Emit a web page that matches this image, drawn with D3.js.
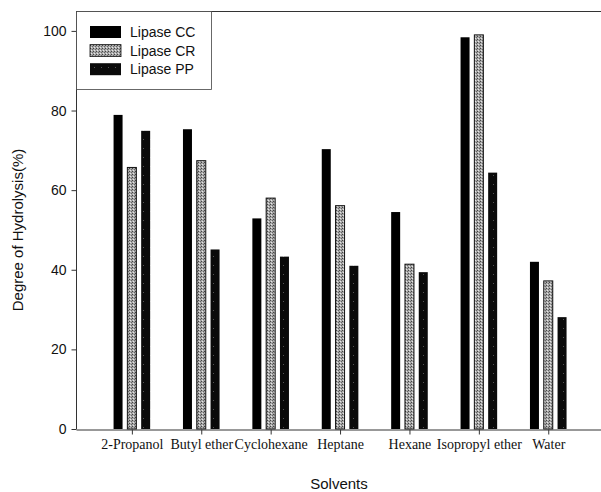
<!DOCTYPE html>
<html>
<head>
<meta charset="utf-8">
<script src="https://cdn.jsdelivr.net/npm/d3@7"></script>
<style>
  body { margin: 0; background: #fff; }
  svg { display: block; }
</style>
</head>
<body>
<svg id="chart" width="601" height="492"></svg>
<script>
// Degree of hydrolysis by lipase in different solvents
const solvents = ["2-Propanol", "Butyl ether", "Cyclohexane", "Heptane", "Hexane", "Isopropyl ether", "Water"];
const seriesNames = ["Lipase CC", "Lipase CR", "Lipase PP"];
const lipaseCC = [78.9, 75.3, 52.9, 70.3, 54.5, 98.4, 42.0];
const lipaseCR = [65.7, 67.4, 58.0, 56.1, 41.4, 99.0, 37.2];
const lipasePP = [74.9, 45.1, 43.3, 41.0, 39.4, 64.4, 28.1];
const yTicks = [0, 20, 40, 60, 80, 100];

const seriesValues = [lipaseCC, lipaseCR, lipasePP];

const svg = d3.select("#chart");
const margin = { left: 76, top: 11, right: 0, bottom: 63 };
const width = 601, height = 492;
const plotBottom = height - margin.bottom; // 429

// fills: solid black, stippled gray, speckled black
const defs = svg.append("defs");
const crPat = defs.append("pattern").attr("id", "crFill")
  .attr("patternUnits", "userSpaceOnUse").attr("width", 3).attr("height", 3);
crPat.append("rect").attr("width", 3).attr("height", 3).attr("fill", "#a8a8a8");
crPat.append("rect").attr("x", 0).attr("y", 0).attr("width", 1).attr("height", 1).attr("fill", "#444");
crPat.append("rect").attr("x", 2).attr("y", 1).attr("width", 1).attr("height", 1).attr("fill", "#666");
crPat.append("rect").attr("x", 1).attr("y", 2).attr("width", 1).attr("height", 1).attr("fill", "#e6e6e6");

const ppPat = defs.append("pattern").attr("id", "ppFill")
  .attr("patternUnits", "userSpaceOnUse").attr("width", 7).attr("height", 9);
ppPat.append("rect").attr("width", 7).attr("height", 9).attr("fill", "#0a0a0a");
ppPat.append("rect").attr("x", 3).attr("y", 4).attr("width", 1).attr("height", 1).attr("fill", "#555");

const fills = ["#000", "url(#crFill)", "url(#ppFill)"];
const strokes = ["none", "#111", "none"];

// scales
const x = d3.scaleLinear().domain([0.195, 7.76]).range([margin.left, width]);
const y = d3.scaleLinear().domain([0, 105]).range([plotBottom, margin.top]);

const barW = 9;
const barStep = 13.8;

// bars
seriesValues.forEach((vals, s) => {
  svg.append("g").selectAll("rect")
    .data(vals)
    .join("rect")
    .attr("x", (d, i) => x(i + 1) + (s - 1) * barStep - barW / 2)
    .attr("y", d => y(d))
    .attr("width", barW)
    .attr("height", d => y(0) - y(d))
    .attr("fill", fills[s])
    .attr("stroke", strokes[s])
    .attr("stroke-width", s === 1 ? 1 : 0);
});

// top frame line
svg.append("line")
  .attr("x1", margin.left).attr("x2", width)
  .attr("y1", margin.top + 0.5).attr("y2", margin.top + 0.5)
  .attr("stroke", "#333").attr("stroke-width", 1);

// y axis
const yAxis = svg.append("g")
  .attr("transform", `translate(${margin.left + 0.5},0)`)
  .call(d3.axisLeft(y).tickValues(yTicks).tickSize(5).tickSizeOuter(0));
yAxis.select(".domain").attr("stroke", "#333");
yAxis.selectAll(".tick line").attr("stroke", "#333");
yAxis.selectAll("text")
  .attr("font-family", "Arial, 'Liberation Sans', sans-serif")
  .attr("font-size", 14).attr("fill", "#111").attr("x", -10);
yAxis.select(".domain").attr("d", `M0,${margin.top}V${plotBottom}`);

// x axis
const xAxis = svg.append("g")
  .attr("transform", `translate(0,${plotBottom + 0.5})`)
  .call(d3.axisBottom(x).tickValues(d3.range(1, solvents.length + 1))
    .tickFormat(i => solvents[i - 1]).tickSize(5).tickSizeOuter(0));
xAxis.select(".domain").attr("stroke", "#333");
xAxis.selectAll(".tick line").attr("stroke", "#333");
xAxis.selectAll("text")
  .attr("font-family", "'Liberation Serif', 'Times New Roman', serif")
  .attr("font-size", 14).attr("fill", "#111").attr("dy", "0.85em").attr("y", 8);

// axis titles
svg.append("text")
  .attr("x", 339).attr("y", 489)
  .attr("text-anchor", "middle")
  .attr("font-family", "Arial, 'Liberation Sans', sans-serif")
  .attr("font-size", 15).attr("fill", "#111")
  .text("Solvents");

svg.append("text")
  .attr("transform", `translate(23,${(margin.top + plotBottom) / 2 + 10}) rotate(-90)`)
  .attr("text-anchor", "middle")
  .attr("font-family", "Arial, 'Liberation Sans', sans-serif")
  .attr("font-size", 15).attr("fill", "#111")
  .text("Degree of Hydrolysis(%)");

// legend
const legend = svg.append("g");
legend.append("rect")
  .attr("x", margin.left + 0.5).attr("y", margin.top + 0.5)
  .attr("width", 135).attr("height", 78)
  .attr("fill", "#fff").attr("stroke", "#444").attr("stroke-width", 0.8);
seriesNames.forEach((name, s) => {
  const cy = 32 + s * 18.6;
  legend.append("rect")
    .attr("x", 90).attr("y", cy - 6)
    .attr("width", 31).attr("height", 12)
    .attr("fill", fills[s])
    .attr("stroke", strokes[s]).attr("stroke-width", s === 1 ? 0.8 : 0);
  legend.append("text")
    .attr("x", 130).attr("y", cy + 5)
    .attr("font-family", "Arial, 'Liberation Sans', sans-serif")
    .attr("font-size", 14).attr("fill", "#111")
    .text(name);
});
</script>
</body>
</html>
